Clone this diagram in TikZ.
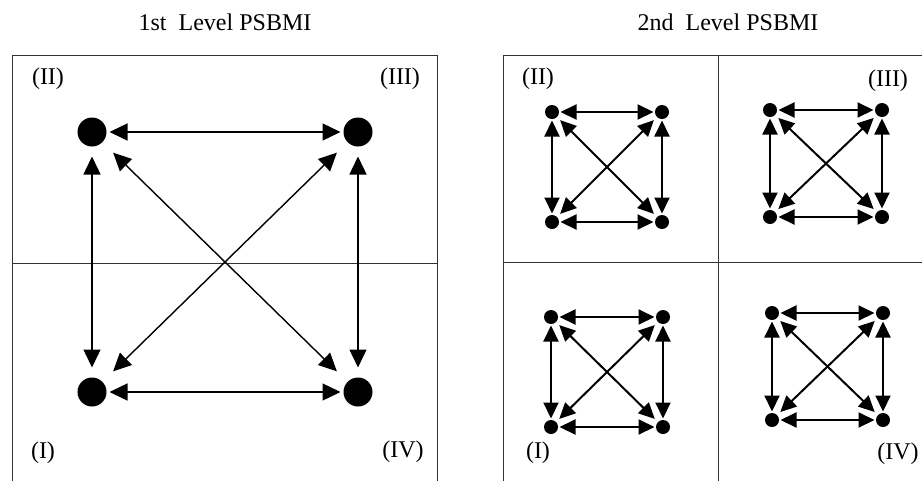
\documentclass[tikz,border=0pt]{standalone}
\usepackage{fontspec}
\setmainfont{Liberation Serif}
\usetikzlibrary{arrows.meta}
\begin{document}
\begin{tikzpicture}[x=1pt,y=-1pt,
  frame/.style={draw=black!80, line width=1pt},
  bigdot/.style={circle, fill=black, minimum size=29pt, inner sep=0pt, outer sep=3pt},
  smalldot/.style={circle, fill=black, minimum size=14pt, inner sep=0pt, outer sep=1.5pt},
  bigarrow/.style={line width=1.4pt, >={Triangle[length=18pt,width=17pt]}, <->},
  smallarrow/.style={line width=2pt, >={Triangle[length=16pt,width=15pt]}, <->},
  lab/.style={font=\fontsize{24}{26}\selectfont, inner sep=0pt},
  ttl/.style={font=\fontsize{24}{26}\selectfont, inner sep=0pt}]
\useasboundingbox (0,0) rectangle (922,480);
\clip (0,0) rectangle (922,480);

% titles
\node[ttl] (t1) at (225,22) {1st\ \ Level PSBMI};
\node[ttl] (t2) at (728,22) {2nd\ \ Level PSBMI};

% frames
\draw[frame] (12,495) -- (12,55) -- (437,55) -- (437,495);
\draw[frame] (12,263) -- (437,263);
\draw[frame] (503,495) -- (503,55) -- (935,55);
\draw[frame] (718,55) -- (718,495);
\draw[frame] (503,262) -- (935,262);

% labels left
\node[lab] (l2) at (48,79) {(II)};
\node[lab] (l3) at (400,79) {(III)};
\node[lab] (l1) at (43,453) {(I)};
\node[lab] (l4) at (403,452) {(IV)};
% labels right
\node[lab] (r2) at (538,79) {(II)};
\node[lab] (r3) at (888,81) {(III)};
\node[lab] (r1) at (538,453) {(I)};
\node[lab] (r4) at (898,454) {(IV)};

% first level
\node[bigdot] (B2) at (92,132) {};
\node[bigdot] (B3) at (358,132) {};
\node[bigdot] (B1) at (92,392) {};
\node[bigdot] (B4) at (358,392) {};
\draw[bigarrow] (B2) -- (B3);
\draw[bigarrow] (B1) -- (B4);
\draw[bigarrow, shorten <=7pt, shorten >=7pt] (B2) -- (B1);
\draw[bigarrow, shorten <=7pt, shorten >=7pt] (B3) -- (B4);
\draw[bigarrow, shorten <=12pt, shorten >=12pt] (B2) -- (B4);
\draw[bigarrow, shorten <=12pt, shorten >=12pt] (B3) -- (B1);

% second level
\foreach \q/\x/\y/\w/\h in {A/552/112/110/110, B/770/110/112/107, C/551/317/112/110, D/772/313/111/107}{
  \node[smalldot] (\q-tl) at (\x,\y) {};
  \node[smalldot] (\q-tr) at (\x+\w,\y) {};
  \node[smalldot] (\q-bl) at (\x,\y+\h) {};
  \node[smalldot] (\q-br) at (\x+\w,\y+\h) {};
  \draw[smallarrow] (\q-tl) -- (\q-tr);
  \draw[smallarrow] (\q-bl) -- (\q-br);
  \draw[smallarrow] (\q-tl) -- (\q-bl);
  \draw[smallarrow] (\q-tr) -- (\q-br);
  \draw[smallarrow, shorten <=3pt, shorten >=3pt] (\q-tl) -- (\q-br);
  \draw[smallarrow, shorten <=3pt, shorten >=3pt] (\q-tr) -- (\q-bl);
}
\end{tikzpicture}
\end{document}
